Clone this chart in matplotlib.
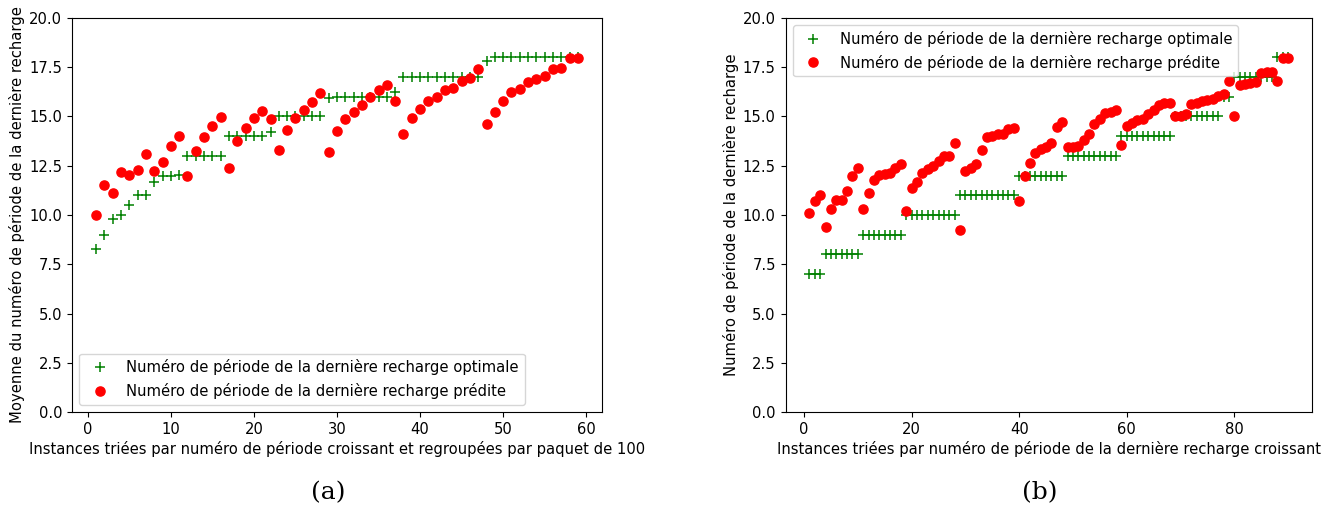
import matplotlib
matplotlib.use("Agg")
import matplotlib.pyplot as plt
import numpy as np

# ---------------- Data: panel (a) ----------------
xa = list(range(1, 60))
opt_a = [8.25, 9.0, 9.8, 10.0, 10.5, 11.0, 11.0, 11.65, 12.0, 12.0, 12.05,
         13.0, 13.0, 13.0, 13.0, 13.0,
         14.0, 14.0, 14.0, 14.0, 14.0, 14.2,
         15.0, 15.0, 15.0, 15.0, 15.0, 15.0, 15.95,
         16.0, 16.0, 16.0, 16.0, 16.0, 16.0, 16.0, 16.25,
         17.0, 17.0, 17.0, 17.0, 17.0, 17.0, 17.0, 17.0, 17.0, 17.0, 17.8,
         18.0, 18.0, 18.0, 18.0, 18.0, 18.0, 18.0, 18.0, 18.0, 18.0, 18.0]
pred_a = [10.0, 11.5, 11.1, 12.2, 12.05, 12.3, 13.1, 12.25, 12.7, 13.5,
          14.0, 12.0, 13.25, 13.95, 14.5, 14.95, 12.37, 13.75, 14.4, 14.9,
          15.3, 14.85, 13.3, 14.3, 14.9, 15.33, 15.75, 16.2, 13.2, 14.28,
          14.86, 15.25, 15.6, 15.97, 16.33, 16.62, 15.8, 14.1, 14.92, 15.37,
          15.77, 16.0, 16.33, 16.43, 16.8, 16.95, 17.4, 14.62, 15.21, 15.8,
          16.26, 16.38, 16.73, 16.89, 17.04, 17.41, 17.48, 17.97, 17.97]

# ---------------- Data: panel (b) ----------------
xb = list(range(1, 91))
opt_b = ([7.0] * 3 + [8.0] * 7 + [9.0] * 8 + [10.0] * 10 + [11.0] * 11 +
         [12.0] * 9 + [13.0] * 10 + [14.0] * 10 + [15.0] * 9 + [16.0] * 2 +
         [17.0] * 8 + [18.0] * 3)
pred_b = [10.1, 10.7, 11.0, 9.4, 10.3, 10.75, 10.75, 11.2, 12.0, 12.4,
          10.3, 11.1, 11.8, 12.05, 12.1, 12.15, 12.4, 12.6, 10.2, 11.35,
          11.65, 12.15, 12.35, 12.5, 12.75, 13.0, 13.0, 13.65, 9.25, 12.25,
          12.4, 12.6, 13.3, 13.95, 14.0, 14.1, 14.1, 14.35, 14.4, 10.7,
          12.0, 12.65, 13.15, 13.35, 13.45, 13.65, 14.45, 14.7, 13.45, 13.45,
          13.5, 13.8, 14.1, 14.6, 14.85, 15.2, 15.25, 15.35, 13.55, 14.5,
          14.65, 14.8, 14.85, 15.15, 15.35, 15.6, 15.7, 15.7, 15.0, 15.05,
          15.15, 15.65, 15.7, 15.8, 15.85, 15.9, 16.05, 16.15, 16.8, 15.05,
          16.6, 16.65, 16.7, 16.75, 17.2, 17.25, 17.25, 16.8, 17.95, 17.95]

lab_opt = "Numéro de période de la dernière recharge optimale"
lab_pred = "Numéro de période de la dernière recharge prédite"
xlabel_a = "Instances triées par numéro de période croissant et regroupées par paquet de 100"
ylabel_a = "Moyenne du numéro de période de la dernière recharge"
xlabel_b = "Instances triées par numéro de période de la dernière recharge croissant"
ylabel_b = "Numéro de période de la dernière recharge"
yticks = [0.0, 2.5, 5.0, 7.5, 10.0, 12.5, 15.0, 17.5, 20.0]

plt.rcParams['font.family'] = ['DejaVu Sans']
FS = 10.6

W, H = 1339, 511
fig = plt.figure(figsize=(W / 100, H / 100), dpi=100)

ax1 = fig.add_axes([72 / W, 1 - 412 / H, 530 / W, 394 / H])
ax2 = fig.add_axes([785.5 / W, 1 - 412 / H, 526.5 / W, 394 / H])

for ax, x, o, p, xl, yl, loc, xt in [
        (ax1, xa, opt_a, pred_a, xlabel_a, ylabel_a, 'lower left', [0, 10, 20, 30, 40, 50, 60]),
        (ax2, xb, opt_b, pred_b, xlabel_b, ylabel_b, 'upper left', [0, 20, 40, 60, 80])]:
    ax.plot(x, o, linestyle='none', marker='+', color='green', markersize=7,
            markeredgewidth=1.1, label=lab_opt)
    ax.plot(x, p, linestyle='none', marker='o', color='red', markersize=6.6,
            label=lab_pred)
    ax.set_ylim(0, 20)
    ax.set_yticks(yticks)
    ax.set_xticks(xt)
    ax.set_xlabel(xl, fontsize=FS, labelpad=3)
    ax.set_ylabel(yl, fontsize=FS, labelpad=3)
    ax.tick_params(labelsize=FS)
    ax.legend(loc=loc, fontsize=FS)

fig.text(328 / W, 1 - 493 / H, "(a)", family='DejaVu Serif', fontsize=18,
         ha='center', va='center')
fig.text(1040 / W, 1 - 493 / H, "(b)", family='DejaVu Serif', fontsize=18,
         ha='center', va='center')

fig.savefig("out.png", dpi=100)
